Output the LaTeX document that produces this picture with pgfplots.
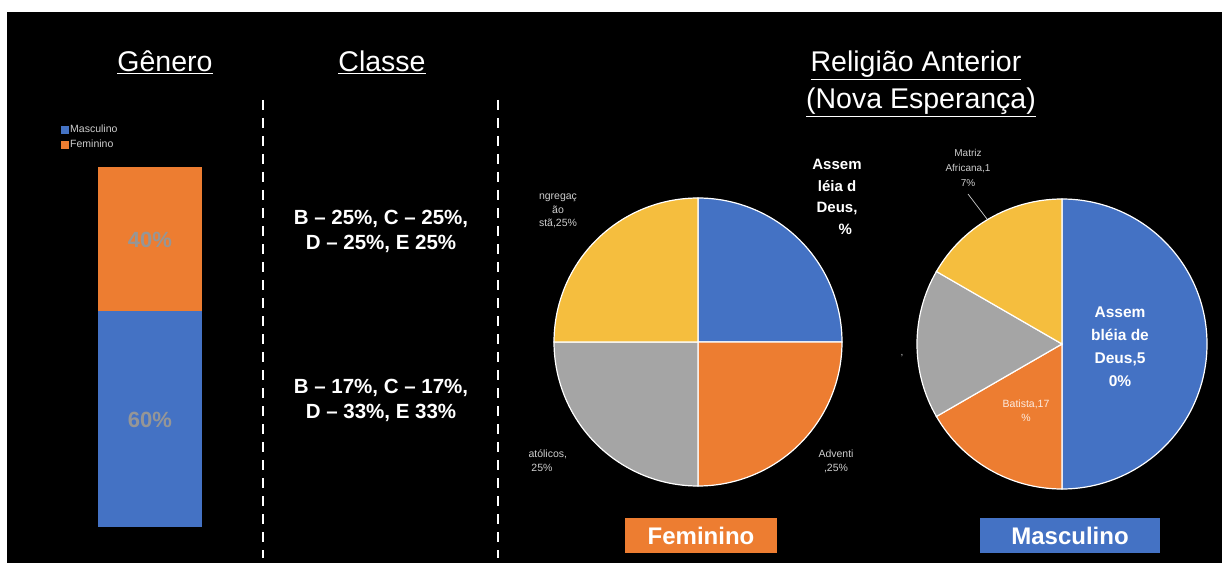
\documentclass[border=0pt]{standalone}
\usepackage{pgfplots}
\pgfplotsset{compat=1.18}
\usepackage{fontspec}
\setmainfont{Liberation Sans}
\definecolor{cblue}{RGB}{68,114,196}
\definecolor{corange}{RGB}{237,125,49}
\definecolor{cgray}{RGB}{165,165,165}
\definecolor{cyellow}{RGB}{245,190,62}
\definecolor{ltxt}{RGB}{205,205,205}
\definecolor{bartxt}{RGB}{150,150,150}

% radius, start (percent), share (percent), colour
\newcommand{\pieslice}[4]{%
  \fill[#4, draw=white, line width=1.2pt] (axis cs:0,0) -- ++({90-3.6*#2}:#1)
    arc[start angle={90-3.6*#2}, end angle={90-3.6*(#2+#3)}, radius=#1] -- cycle;}
\newcommand{\Y}[1]{{563-#1}}

\begin{document}
\begin{tikzpicture}[x=1pt,y=1pt]
\fill[white] (0,0) rectangle (1222,563);
\fill[black] (7,0) rectangle (1222,\Y{12});

% titles
\node[white, anchor=base, font=\fontsize{28.5}{33}\selectfont] at (165,\Y{72}) {\underline{Gênero}};
\node[white, anchor=base, font=\fontsize{28.5}{33}\selectfont] at (382,\Y{72}) {\underline{Classe}};
\node[white, anchor=base, font=\fontsize{28.5}{33}\selectfont] at (916,\Y{72}) {\underline{Religião Anterior}};
\node[white, anchor=base, font=\fontsize{28.5}{33}\selectfont] at (921,\Y{109}) {\underline{(Nova Esperança)}};

% dashed separators
\draw[white, line width=2.5pt, dash pattern=on 10pt off 8pt] (263,\Y{100}) -- (263,\Y{558});
\draw[white, line width=2.5pt, dash pattern=on 10pt off 8pt] (498,\Y{100}) -- (498,\Y{558});

% stacked bar
\begin{axis}[at={(98pt,36pt)}, anchor=south west, scale only axis,
  width=104pt, height=360pt, hide axis, ybar stacked, bar width=104pt,
  xmin=-0.5, xmax=0.5, ymin=0, ymax=100, clip=false,
  legend style={at={(rel axis cs:0,1)}, anchor=north west, xshift=-37pt, yshift=43pt,
    draw=none, fill=none, text=ltxt, font=\fontsize{10.5}{12}\selectfont,
    inner sep=0pt, row sep=4pt, nodes={inner sep=1pt}},
  legend cell align=left,
  legend image code/.code={\fill[#1] (0pt,-4pt) rectangle (8pt,4pt);}]
\addplot[fill=cblue, draw=none] coordinates {(0,60)};
\addplot[fill=corange, draw=none] coordinates {(0,40)};
\legend{Masculino, Feminino}
\end{axis}
\node[bartxt, font=\bfseries\fontsize{22}{26}\selectfont] at (150,\Y{240}) {40\%};
\node[bartxt, font=\bfseries\fontsize{22}{26}\selectfont] at (150,\Y{420}) {60\%};

% classe
\node[white, align=center, font=\bfseries\fontsize{20.5}{25}\selectfont] at (381,\Y{231}) {B – 25\%, C – 25\%,\\D – 25\%, E 25\%};
\node[white, align=center, font=\bfseries\fontsize{20.5}{25}\selectfont] at (381,\Y{400}) {B – 17\%, C – 17\%,\\D – 33\%, E 33\%};

% female pie
\begin{axis}[at={(698pt,221pt)}, anchor=center, hide axis, x=144pt, y=144pt,
  xmin=-1, xmax=1, ymin=-1, ymax=1, clip=false]
\addplot[draw=none] coordinates {(0,0)};
\pieslice{144pt}{0}{25}{cblue}
\pieslice{144pt}{25}{25}{corange}
\pieslice{144pt}{50}{25}{cgray}
\pieslice{144pt}{75}{25}{cyellow}
\end{axis}

% male pie
\begin{axis}[at={(1062pt,219pt)}, anchor=center, hide axis, x=145pt, y=145pt,
  xmin=-1, xmax=1, ymin=-1, ymax=1, clip=false]
\addplot[draw=none] coordinates {(0,0)};
\pieslice{145pt}{0}{50}{cblue}
\pieslice{145pt}{50}{16.67}{corange}
\pieslice{145pt}{66.67}{16.67}{cgray}
\pieslice{145pt}{83.33}{16.67}{cyellow}
\end{axis}

% female labels
\node[ltxt, align=center, font=\fontsize{10.5}{13.5}\selectfont] at (558,\Y{211}) {ngregaç\\ão\\stã,25\%};
\node[ltxt, align=left, anchor=west, font=\fontsize{10.5}{14}\selectfont] at (525,\Y{461}) {atólicos,\\\ 25\%};
\node[ltxt, align=center, font=\fontsize{10.5}{14}\selectfont] at (836,\Y{461}) {Adventi\\,25\%};
\node[white, align=center, font=\bfseries\fontsize{15}{21.5}\selectfont] at (837,\Y{197}) {Assem\\léia d\\Deus,\\\hspace*{1.1em}\%};

% male labels
\node[ltxt, align=center, font=\fontsize{10}{15}\selectfont] at (968,\Y{168}) {Matriz\\Africana,1\\7\%};
\draw[ltxt, line width=0.7pt] (968,\Y{194}) -- (987,\Y{219});
\node[white, opacity=0.85, align=center, font=\fontsize{10.5}{14}\selectfont] at (1026,\Y{411}) {Batista,17\\\%};
\node[white, align=center, font=\bfseries\fontsize{15.5}{23}\selectfont] at (1120,\Y{347}) {Assem\\bléia de\\Deus,5\\0\%};
\node[ltxt, font=\fontsize{10}{12}\selectfont] at (902,\Y{356}) {,};

% bottom boxes
\fill[corange] (625,\Y{518}) rectangle (777,\Y{553});
\node[white, font=\bfseries\fontsize{24}{28}\selectfont] at (701,\Y{536}) {Feminino};
\fill[cblue] (980,\Y{518}) rectangle (1160,\Y{553});
\node[white, font=\bfseries\fontsize{24}{28}\selectfont] at (1070,\Y{536}) {Masculino};

\pgfresetboundingbox
\useasboundingbox (0,0) rectangle (1222,563);
\end{tikzpicture}
\end{document}
